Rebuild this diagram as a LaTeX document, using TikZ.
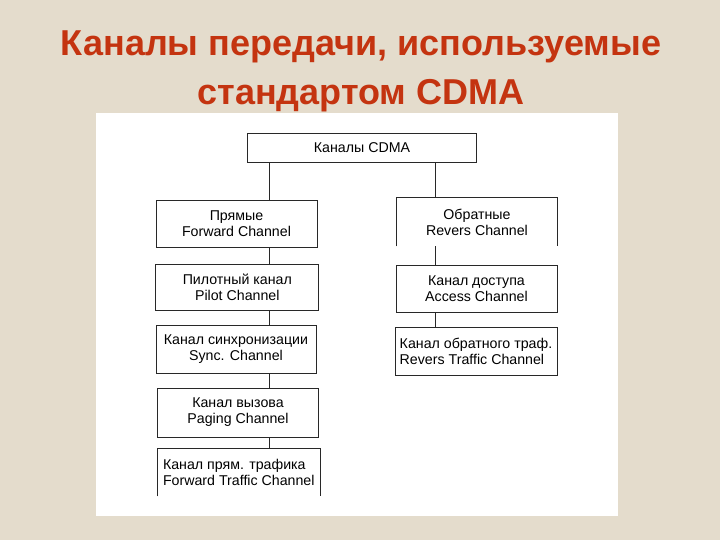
\documentclass[tikz,border=0pt]{standalone}
\usepackage{fontspec}
\setmainfont{Liberation Sans}
\definecolor{paper}{RGB}{228,220,204}
\definecolor{titlered}{RGB}{196,52,16}
\definecolor{edge}{RGB}{40,40,40}
\tikzset{
  chbox/.style={draw=edge, line width=0.8pt, inner sep=0pt,
    font=\fontsize{14.2}{16}\selectfont, align=center},
  openbox/.style={chbox, draw=none},
  link/.style={draw=edge, line width=0.8pt}
}

\begin{document}
\begin{tikzpicture}[x=1pt, y=-1pt]
  \useasboundingbox (0,0) rectangle (720,540);
  \fill[paper] (0,0) rectangle (720,540);
  \fill[white] (96,113) rectangle (618,516);
  % title
  \node[titlered, font=\fontsize{36}{49}\selectfont\bfseries, align=center] (title) at (361,71)
    {Каналы передачи, используемые\\стандартом CDMA};
  % boxes
  \node[chbox, minimum width=229pt, minimum height=29.5pt] (cdma) at (362,148) {Каналы CDMA};
  \node[chbox, minimum width=161pt, minimum height=47pt] (fwd) at (236.5,223.5) {Прямые\\Forward Channel};
  \node[chbox, minimum width=163pt, minimum height=46pt] (pilot) at (237.3,287) {Пилотный канал\\Pilot Channel};
  \node[chbox, minimum width=160pt, minimum height=48pt] (sync) at (236,349) {Канал синхронизации\\Sync. Channel};
  \node[chbox, minimum width=161pt, minimum height=49pt] (paging) at (238,412.5) {Канал вызова\\Paging Channel};
  \node[openbox, align=left, minimum width=163pt, minimum height=47pt] (fwdtraf) at (238.8,472.5)
    {Канал прям. трафика\\Forward Traffic Channel};
  \node[openbox, minimum width=160pt, minimum height=48pt] (rev) at (477,222) {Обратные\\Revers Channel};
  \node[chbox, minimum width=161pt, minimum height=47pt] (access) at (476.5,288.5) {Канал доступа\\Access Channel};
  \node[chbox, align=left, minimum width=162pt, minimum height=48pt] (revtraf) at (476,351)
    {Канал обратного траф.\\Revers Traffic Channel};
  % boxes without bottom edge
  \draw[link] (fwdtraf.south west) -- (fwdtraf.north west) -- (fwdtraf.north east) -- (fwdtraf.south east);
  \draw[link] (rev.south west) -- (rev.north west) -- (rev.north east) -- (rev.south east);
  % connectors
  \coordinate (lx) at (269,0);
  \coordinate (rx) at (435,0);
  \draw[link] (cdma.south -| lx) -- (fwd.north -| lx);
  \draw[link] (fwd.south -| lx) -- (pilot.north -| lx);
  \draw[link] (pilot.south -| lx) -- (sync.north -| lx);
  \draw[link] (sync.south -| lx) -- (paging.north -| lx);
  \draw[link] (paging.south -| lx) -- (fwdtraf.north -| lx);
  \draw[link] (cdma.south -| rx) -- (rev.north -| rx);
  \draw[link] (rev.south -| rx) -- (access.north -| rx);
  \draw[link] (access.south -| rx) -- (revtraf.north -| rx);
\end{tikzpicture}
\end{document}
